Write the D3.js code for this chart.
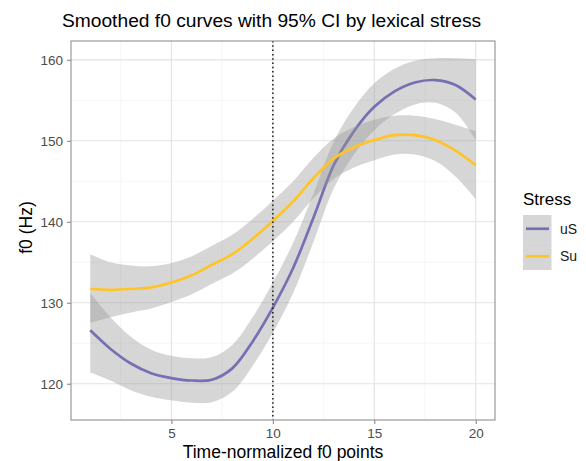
<!DOCTYPE html>
<html>
<head>
<meta charset="utf-8">
<script src="https://cdn.jsdelivr.net/npm/d3@7"></script>
<style>
  html, body { margin: 0; padding: 0; background: #fff; }
  svg { display: block; }
  text { font-family: "Liberation Sans", Arial, Helvetica, sans-serif; }
</style>
</head>
<body>
<svg id="chart" width="586" height="461"></svg>
<script>
// ---- data ----
const timePoints = [1,2,3,4,5,6,7,8,9,10,11,12,13,14,15,16,17,18,19,20];
const stressLevels = ["uS", "Su"];
const uSFit   = [126.6,124.3,122.5,121.3,120.7,120.4,120.5,121.9,125.2,129.4,134.3,140.5,147.0,151.2,154.2,156.1,157.2,157.5,156.9,155.1];
const uSLower = [121.4,120.4,119.2,118.4,117.95,117.65,117.7,119.0,122.2,126.3,131.2,137.5,144.1,148.3,151.3,153.3,154.5,154.7,153.5,150.1];
const uSUpper = [131.2,128.2,125.8,124.2,123.45,123.15,123.3,124.8,128.2,132.5,137.4,143.5,149.9,154.1,157.1,158.9,159.9,160.2,160.2,160.1];
const SuFit   = [131.7,131.6,131.7,131.9,132.5,133.4,134.7,136.0,137.9,140.1,142.5,145.4,147.8,149.2,150.1,150.7,150.7,150.1,148.8,147.0];
const SuLower = [127.5,128.2,128.8,129.3,130.1,131.05,132.35,133.6,135.45,137.6,140.0,142.9,145.3,146.7,147.6,148.3,148.3,147.5,145.6,142.8];
const SuUpper = [136.0,135.0,134.6,134.5,134.9,135.75,137.05,138.4,140.35,142.6,145.0,147.9,150.3,151.7,152.6,153.1,153.1,152.7,152.0,151.2];
const xTicks = [5, 10, 15, 20];
const yTicks = [120, 130, 140, 150, 160];
const xMinor = [2.5, 7.5, 12.5, 17.5];
const yMinor = [115, 125, 135, 145, 155];
const refLineX = 10;
const colors = { uS: "#7570B3", Su: "#FFC425" };

const series = [
  { key: "uS", fit: uSFit, lo: uSLower, hi: uSUpper },
  { key: "Su", fit: SuFit, lo: SuLower, hi: SuUpper }
];

// ---- layout ----
const svg = d3.select("#chart");
const panel = { left: 71, right: 495, top: 41, bottom: 420 };

const xExt = d3.extent(timePoints);
const xPad = (xExt[1] - xExt[0]) * 0.05;
const x = d3.scaleLinear().domain([xExt[0] - xPad, xExt[1] + xPad]).range([panel.left, panel.right]);

const allY = [].concat(uSLower, uSUpper, SuLower, SuUpper);
const yExt = d3.extent(allY);
const yPad = (yExt[1] - yExt[0]) * 0.05;
const y = d3.scaleLinear().domain([yExt[0] - yPad, yExt[1] + yPad]).range([panel.bottom, panel.top]);

// clip
svg.append("defs").append("clipPath").attr("id", "clip")
  .append("rect").attr("x", panel.left).attr("y", panel.top)
  .attr("width", panel.right - panel.left).attr("height", panel.bottom - panel.top);

// grid
const grid = svg.append("g");
grid.selectAll(".xminor").data(xMinor.filter(v => x(v) > panel.left && x(v) < panel.right)).join("line")
  .attr("x1", d => x(d)).attr("x2", d => x(d)).attr("y1", panel.top).attr("y2", panel.bottom)
  .attr("stroke", "#F0F0F0").attr("stroke-width", 0.6);
grid.selectAll(".yminor").data(yMinor.filter(v => y(v) > panel.top && y(v) < panel.bottom)).join("line")
  .attr("y1", d => y(d)).attr("y2", d => y(d)).attr("x1", panel.left).attr("x2", panel.right)
  .attr("stroke", "#F0F0F0").attr("stroke-width", 0.6);
grid.selectAll(".xmajor").data(xTicks).join("line")
  .attr("x1", d => x(d)).attr("x2", d => x(d)).attr("y1", panel.top).attr("y2", panel.bottom)
  .attr("stroke", "#E3E3E3").attr("stroke-width", 1.1);
grid.selectAll(".ymajor").data(yTicks).join("line")
  .attr("y1", d => y(d)).attr("y2", d => y(d)).attr("x1", panel.left).attr("x2", panel.right)
  .attr("stroke", "#E3E3E3").attr("stroke-width", 1.1);

// smooths
const plot = svg.append("g").attr("clip-path", "url(#clip)");
const area = d3.area()
  .x((d, i) => x(timePoints[i]))
  .y0(d => y(d[0])).y1(d => y(d[1]))
  .curve(d3.curveCatmullRom.alpha(0.5));
const line = d3.line()
  .x((d, i) => x(timePoints[i]))
  .y(d => y(d))
  .curve(d3.curveCatmullRom.alpha(0.5));

series.forEach(s => {
  const band = s.lo.map((v, i) => [v, s.hi[i]]);
  plot.append("path").attr("d", area(band))
    .attr("fill", "#999999").attr("fill-opacity", 0.4);
  plot.append("path").attr("d", line(s.fit))
    .attr("fill", "none").attr("stroke", colors[s.key]).attr("stroke-width", 2.7)
    .attr("stroke-linecap", "butt");
});

// reference line
plot.append("line")
  .attr("x1", x(refLineX)).attr("x2", x(refLineX))
  .attr("y1", panel.top).attr("y2", panel.bottom)
  .attr("stroke", "#1a1a1a").attr("stroke-width", 1.5)
  .attr("stroke-dasharray", "1.5 2.8");

// panel border
svg.append("rect")
  .attr("x", panel.left).attr("y", panel.top)
  .attr("width", panel.right - panel.left).attr("height", panel.bottom - panel.top)
  .attr("fill", "none").attr("stroke", "#9A9A9A").attr("stroke-width", 1.2);

// axes
const xAxis = svg.append("g").attr("transform", `translate(0,${panel.bottom})`)
  .call(d3.axisBottom(x).tickValues(xTicks).tickSize(4).tickPadding(4).tickFormat(d3.format("d")));
const yAxis = svg.append("g").attr("transform", `translate(${panel.left},0)`)
  .call(d3.axisLeft(y).tickValues(yTicks).tickSize(4).tickPadding(4).tickFormat(d3.format("d")));
[xAxis, yAxis].forEach(a => {
  a.select(".domain").remove();
  a.selectAll(".tick line").attr("stroke", "#8A8A8A").attr("stroke-width", 1.1);
  a.selectAll(".tick text").attr("fill", "#4D4D4D").style("font-size", "13.5px")
    .style("font-family", "'Liberation Sans', Arial, sans-serif");
});

// titles
svg.append("text").attr("x", 62).attr("y", 27)
  .attr("fill", "#000").style("font-size", "19.2px")
  .text("Smoothed f0 curves with 95% CI by lexical stress");
svg.append("text").attr("x", (panel.left + panel.right) / 2).attr("y", 458)
  .attr("text-anchor", "middle").attr("fill", "#000").style("font-size", "17.5px")
  .text("Time-normalized f0 points");
svg.append("text")
  .attr("transform", `translate(32,${(panel.top + panel.bottom) / 2 - 3}) rotate(-90)`)
  .attr("text-anchor", "middle").attr("fill", "#000").style("font-size", "17.5px")
  .text("f0 (Hz)");

// legend
const legend = svg.append("g");
legend.append("text").attr("x", 523).attr("y", 205)
  .attr("fill", "#000").style("font-size", "17px").text("Stress");
const keyH = 27.5;
stressLevels.forEach((k, i) => {
  const ky = 215 + i * keyH;
  legend.append("rect").attr("x", 523).attr("y", ky).attr("width", 28.5).attr("height", keyH)
    .attr("fill", "#999999").attr("fill-opacity", 0.4);
  legend.append("line").attr("x1", 526).attr("x2", 549)
    .attr("y1", ky + keyH / 2).attr("y2", ky + keyH / 2)
    .attr("stroke", colors[k]).attr("stroke-width", 2.7);
  legend.append("text").attr("x", 560).attr("y", ky + keyH / 2 + 5)
    .attr("fill", "#1a1a1a").style("font-size", "14px").text(k);
});
</script>
</body>
</html>
